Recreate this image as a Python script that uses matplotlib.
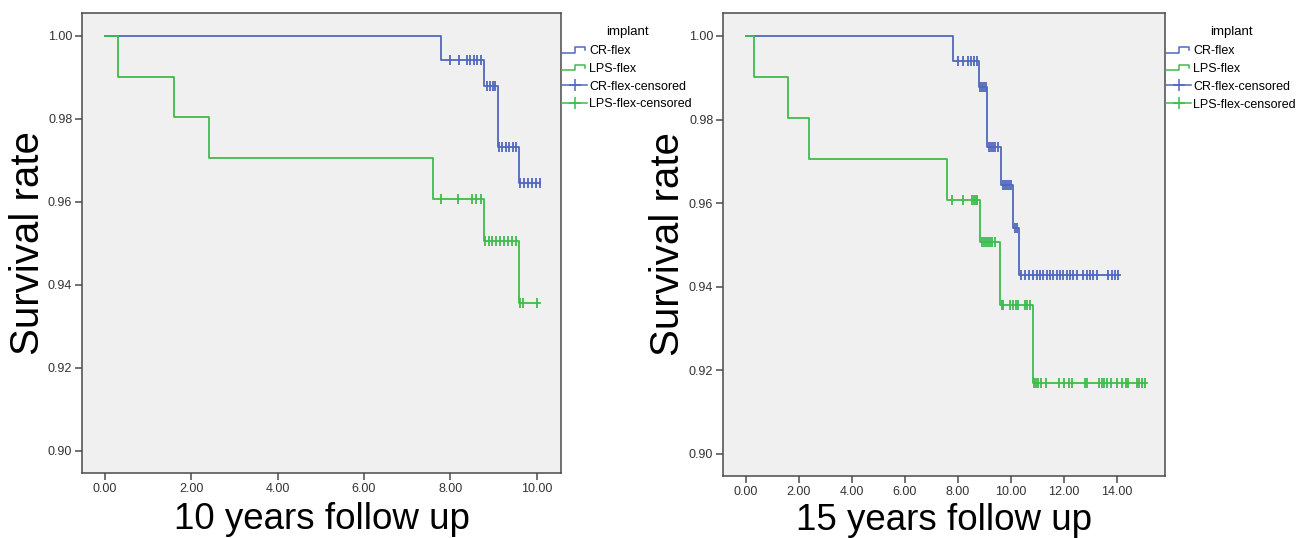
import numpy as np
import matplotlib
matplotlib.use("Agg")
import matplotlib.pyplot as plt
from matplotlib.lines import Line2D
from matplotlib.legend_handler import HandlerBase
from matplotlib.ticker import FormatStrFormatter
from matplotlib.transforms import Bbox, TransformedBbox

plt.rcParams['font.family'] = ['Liberation Sans', 'DejaVu Sans']

# ---------------- data: 10 years follow up ----------------
cr10_times = [0.0, 7.79, 8.78, 9.09, 9.58]
cr10_surv = [1.0, 0.9942, 0.9878, 0.9733, 0.9645]
cr10_end = 10.07
cr10_cens = [7.99, 8.19, 8.39, 8.46, 8.54, 8.62, 8.70,
             8.84, 8.92, 8.98, 9.04,
             9.12, 9.20, 9.28, 9.36, 9.44, 9.52,
             9.61, 9.70, 9.80, 9.90, 9.99, 10.07]

lps10_times = [0.0, 0.30, 1.60, 2.40, 7.59, 8.78, 9.58]
lps10_surv = [1.0, 0.9902, 0.9804, 0.9706, 0.9608, 0.9506, 0.9357]
lps10_end = 10.07
lps10_cens = [7.79, 8.18, 8.49, 8.60, 8.70,
              8.80, 8.89, 8.97, 9.06, 9.15, 9.24, 9.34, 9.43, 9.52,
              9.61, 9.68, 10.01]

# ---------------- data: 15 years follow up ----------------
cr15_times = [0.0, 7.81, 8.80, 9.12, 9.62, 10.07, 10.32]
cr15_surv = [1.0, 0.9941, 0.9877, 0.9734, 0.9644, 0.9540, 0.9428]
cr15_end = 14.12
cr15_cens = [8.00, 8.21, 8.39, 8.50, 8.60, 8.72,
             8.85, 8.93, 9.00, 9.07,
             9.18, 9.26, 9.33, 9.40, 9.50,
             9.70, 9.78, 9.85, 9.92, 10.00,
             10.15, 10.24,
             10.40, 10.54, 10.70, 10.83, 10.98, 11.11, 11.23, 11.36, 11.48,
             11.61, 11.74, 11.86, 11.98, 12.11, 12.24, 12.36, 12.49, 12.74,
             12.87, 12.99, 13.12, 13.25, 13.68, 13.81, 13.94, 14.06]

lps15_times = [0.0, 0.30, 1.60, 2.40, 7.61, 8.82, 9.61, 10.82]
lps15_surv = [1.0, 0.9902, 0.9804, 0.9706, 0.9608, 0.9506, 0.9357, 0.9170]
lps15_end = 15.13
lps15_cens = [7.80, 8.21, 8.53, 8.60, 8.67, 8.74,
              8.90, 8.98, 9.06, 9.14, 9.22, 9.30, 9.40,
              9.66, 9.72, 9.98, 10.08, 10.18, 10.28, 10.54, 10.63, 10.73,
              10.88, 10.94, 11.02, 11.13, 11.33, 11.83, 11.99, 12.21, 12.30,
              12.80, 12.87, 13.34, 13.43, 13.52, 13.62, 13.77, 14.00, 14.19,
              14.35, 14.44, 14.75, 14.85, 14.97, 15.07]

legend_labels = ['CR-flex', 'LPS-flex', 'CR-flex-censored', 'LPS-flex-censored']
legend_title = 'implant'
y_ticks = [0.90, 0.92, 0.94, 0.96, 0.98, 1.00]
x_ticks10 = [0, 2, 4, 6, 8, 10]
x_ticks15 = [0, 2, 4, 6, 8, 10, 12, 14]

BLUE = '#5068bd'
GREEN = '#3fbb4e'
FACE = '#f0f0f0'
SPINE = '#4a4a4a'


class StepHandler(HandlerBase):
    def create_artists(self, legend, orig_handle, xdescent, ydescent,
                       width, height, fontsize, trans):
        x0, y0 = -xdescent, -ydescent
        xs = x0 + width * np.array([0.0, 0.5, 0.5, 0.92, 0.92])
        ys = y0 + height * np.array([0.15, 0.15, 0.8, 0.8, 0.45])
        ln = Line2D(xs, ys, color=orig_handle.get_color(), lw=1.1, transform=trans)
        return [ln]


def km(ax, times, surv, end, cens, color):
    t = np.append(np.asarray(times), end)
    s = np.append(np.asarray(surv), surv[-1])
    ax.step(t, s, where='post', color=color, lw=1.3)
    cens = np.asarray(cens)
    idx = np.searchsorted(np.asarray(times), cens, side='right') - 1
    ax.plot(cens, np.asarray(surv)[idx], ls='none', marker='|', ms=7,
            mew=1.3, color=color)


def style(ax, xticks, xlim, xlabel):
    ax.set_facecolor(FACE)
    for sp in ax.spines.values():
        sp.set_color(SPINE)
        sp.set_linewidth(1.1)
    ax.set_xlim(*xlim)
    ax.set_ylim(0.8947, 1.0055)
    ax.set_xticks(xticks)
    ax.set_yticks(y_ticks)
    ax.xaxis.set_major_formatter(FormatStrFormatter('%.2f'))
    ax.yaxis.set_major_formatter(FormatStrFormatter('%.2f'))
    ax.tick_params(axis='both', direction='out', length=5, width=1.1,
                   color=SPINE, labelsize=9, labelcolor='#333333', pad=2)
    ax.tick_params(top=False, right=False)
    ax.set_ylabel('Survival rate', fontsize=29)
    ax.set_xlabel(xlabel, fontsize=26.5)


def add_legend(ax, clip_px=None):
    handles = [Line2D([], [], color=BLUE), Line2D([], [], color=GREEN),
               Line2D([], [], color=BLUE, marker='+', ms=8, mew=1.1, lw=1.1),
               Line2D([], [], color=GREEN, marker='+', ms=8, mew=1.1, lw=1.1)]
    hm = {handles[0]: StepHandler(), handles[1]: StepHandler()}
    leg = ax.legend(handles, legend_labels, title=legend_title,
                    loc='upper left', bbox_to_anchor=(1.003, 0.972),
                    frameon=False, fontsize=9, title_fontsize=9.5,
                    handlelength=2.0, handletextpad=0.15, labelspacing=0.47,
                    borderaxespad=0, borderpad=0, numpoints=1, handler_map=hm)
    leg._legend_box.sep = 5
    if clip_px is not None:
        fig = ax.figure
        bb = TransformedBbox(Bbox([[0, 0], [clip_px / fig.bbox.width, 1]]),
                             fig.transFigure)
        for t in leg.get_texts():
            t.set_clip_box(bb)
            t.set_clip_on(True)
    return leg


W, H = 1304, 538
fig = plt.figure(figsize=(W / 100, H / 100), dpi=100)
ax1 = fig.add_axes([82 / W, 1 - 473 / H, (561 - 82) / W, (473 - 13) / H])
ax2 = fig.add_axes([723 / W, 1 - 476 / H, (1165 - 723) / W, (476 - 13) / H])

km(ax1, cr10_times, cr10_surv, cr10_end, cr10_cens, BLUE)
km(ax1, lps10_times, lps10_surv, lps10_end, lps10_cens, GREEN)
style(ax1, x_ticks10, (-0.53, 10.56), '10 years follow up')
ax1.yaxis.set_label_coords(-0.074, 0.5)
ax1.xaxis.set_label_coords(0.5, -0.063)
add_legend(ax1, clip_px=696)

km(ax2, cr15_times, cr15_surv, cr15_end, cr15_cens, BLUE)
km(ax2, lps15_times, lps15_surv, lps15_end, lps15_cens, GREEN)
style(ax2, x_ticks15, (-0.86, 15.82), '15 years follow up')
ax2.yaxis.set_label_coords(-0.081, 0.5)
ax2.xaxis.set_label_coords(0.5, -0.058)
add_legend(ax2)

fig.savefig('out.png', dpi=100)
